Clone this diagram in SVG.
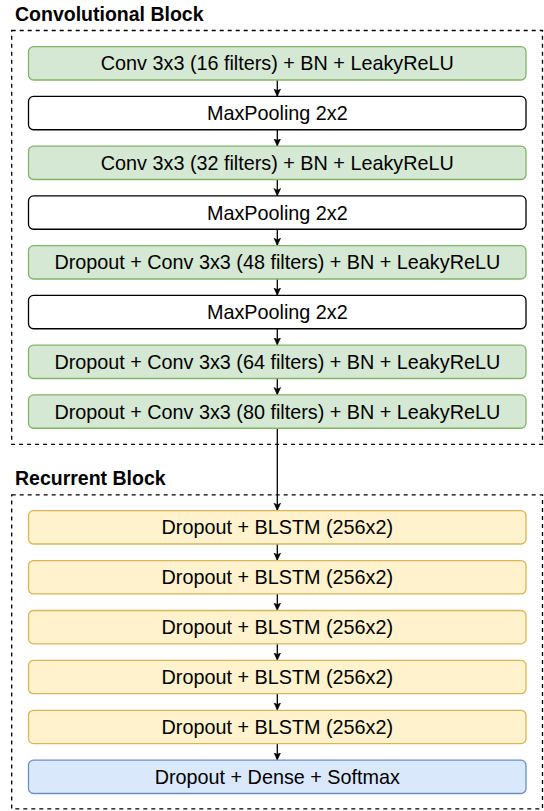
<svg xmlns="http://www.w3.org/2000/svg" width="544" height="811" viewBox="0 0 544 811">
<style>
.cont{fill:none;stroke:#000;stroke-width:1.3;stroke-dasharray:4 4}
.title{font-family:"Liberation Sans",Arial,sans-serif;font-weight:bold;font-size:19.5px;fill:#000}
.lbl{font-family:"Liberation Sans",Arial,sans-serif;font-size:19.8px;fill:#000;text-anchor:middle}
.g{fill:#d5e8d4;stroke:#82b366;stroke-width:1.3}
.w{fill:#fff;stroke:#000;stroke-width:1.3}
.y{fill:#fff2cc;stroke:#d6b656;stroke-width:1.3}
.b{fill:#dae8fc;stroke:#6c8ebf;stroke-width:1.3}
.edge{stroke:#000;stroke-width:1.3;fill:none;marker-end:url(#arr)}
</style>
<defs>
<marker id="arr" markerUnits="userSpaceOnUse" markerWidth="10" markerHeight="10" viewBox="0 0 10 10" refX="7.5" refY="3.4" orient="auto">
<path d="M0,0 L7.5,3.4 L0,6.8 L1.8,3.4 Z" fill="#000" stroke="#000" stroke-width="0.5"/>
</marker>
</defs>
<g id="conv-block">
<rect class="cont" x="11.7" y="30.5" width="530.8" height="413.8"/>
<text class="title" x="15" y="20.5">Convolutional Block</text>
</g>
<g id="rec-block">
<rect class="cont" x="11.7" y="494.8" width="530.8" height="314"/>
<text class="title" x="15" y="485">Recurrent Block</text>
</g>
<g id="connectors">
<line class="edge" x1="277.3" y1="80" x2="277.3" y2="96.4"/>
<line class="edge" x1="277.3" y1="129.8" x2="277.3" y2="146.1"/>
<line class="edge" x1="277.3" y1="179.5" x2="277.3" y2="195.9"/>
<line class="edge" x1="277.3" y1="229.3" x2="277.3" y2="245.6"/>
<line class="edge" x1="277.3" y1="279" x2="277.3" y2="295.4"/>
<line class="edge" x1="277.3" y1="328.8" x2="277.3" y2="345.1"/>
<line class="edge" x1="277.3" y1="378.5" x2="277.3" y2="394.9"/>
<line class="edge" x1="277.3" y1="428.3" x2="277.3" y2="510.6"/>
<line class="edge" x1="277.3" y1="544" x2="277.3" y2="560.5"/>
<line class="edge" x1="277.3" y1="593.9" x2="277.3" y2="610.4"/>
<line class="edge" x1="277.3" y1="643.8" x2="277.3" y2="660.3"/>
<line class="edge" x1="277.3" y1="693.7" x2="277.3" y2="710.2"/>
<line class="edge" x1="277.3" y1="743.6" x2="277.3" y2="760.1"/>
</g>
<g id="n1"><rect class="g" x="28.5" y="46.7" width="497.5" height="33.3" rx="5"/><text class="lbl" x="277.3" y="70.4">Conv 3x3 (16 filters) + BN + LeakyReLU</text></g>
<g id="n2"><rect class="w" x="28.5" y="96.45" width="497.5" height="33.3" rx="5"/><text class="lbl" x="277.3" y="120.2">MaxPooling 2x2</text></g>
<g id="n3"><rect class="g" x="28.5" y="146.2" width="497.5" height="33.3" rx="5"/><text class="lbl" x="277.3" y="169.9">Conv 3x3 (32 filters) + BN + LeakyReLU</text></g>
<g id="n4"><rect class="w" x="28.5" y="195.95" width="497.5" height="33.3" rx="5"/><text class="lbl" x="277.3" y="219.7">MaxPooling 2x2</text></g>
<g id="n5"><rect class="g" x="28.5" y="245.7" width="497.5" height="33.3" rx="5"/><text class="lbl" x="277.3" y="269.4">Dropout + Conv 3x3 (48 filters) + BN + LeakyReLU</text></g>
<g id="n6"><rect class="w" x="28.5" y="295.45" width="497.5" height="33.3" rx="5"/><text class="lbl" x="277.3" y="319.2">MaxPooling 2x2</text></g>
<g id="n7"><rect class="g" x="28.5" y="345.2" width="497.5" height="33.3" rx="5"/><text class="lbl" x="277.3" y="368.9">Dropout + Conv 3x3 (64 filters) + BN + LeakyReLU</text></g>
<g id="n8"><rect class="g" x="28.5" y="394.95" width="497.5" height="33.3" rx="5"/><text class="lbl" x="277.3" y="418.7">Dropout + Conv 3x3 (80 filters) + BN + LeakyReLU</text></g>
<g id="r1"><rect class="y" x="28.5" y="510.7" width="497.5" height="33.3" rx="5"/><text class="lbl" x="277.3" y="534.4">Dropout + BLSTM (256x2)</text></g>
<g id="r2"><rect class="y" x="28.5" y="560.6" width="497.5" height="33.3" rx="5"/><text class="lbl" x="277.3" y="584.3">Dropout + BLSTM (256x2)</text></g>
<g id="r3"><rect class="y" x="28.5" y="610.5" width="497.5" height="33.3" rx="5"/><text class="lbl" x="277.3" y="634.2">Dropout + BLSTM (256x2)</text></g>
<g id="r4"><rect class="y" x="28.5" y="660.4" width="497.5" height="33.3" rx="5"/><text class="lbl" x="277.3" y="684.1">Dropout + BLSTM (256x2)</text></g>
<g id="r5"><rect class="y" x="28.5" y="710.3" width="497.5" height="33.3" rx="5"/><text class="lbl" x="277.3" y="734">Dropout + BLSTM (256x2)</text></g>
<g id="r6"><rect class="b" x="28.5" y="760.2" width="497.5" height="33.3" rx="5"/><text class="lbl" x="277.3" y="783.9">Dropout + Dense + Softmax</text></g>
</svg>
